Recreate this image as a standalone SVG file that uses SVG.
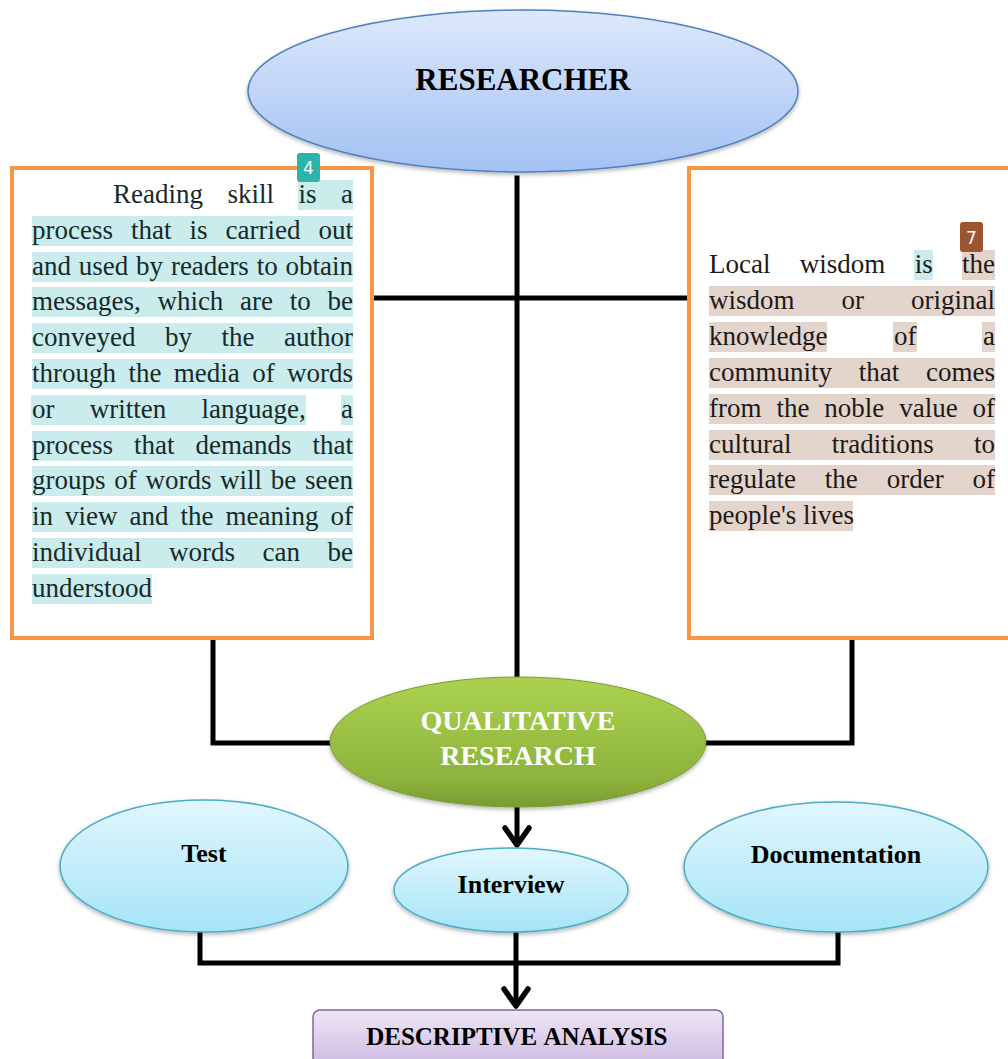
<svg xmlns="http://www.w3.org/2000/svg" width="1008" height="1059" viewBox="0 0 1008 1059">
<defs>
<linearGradient id="gBlue" x1="0" y1="0" x2="0" y2="1"><stop offset="0" stop-color="#DDE8FB"/><stop offset="1" stop-color="#A3C1F4"/></linearGradient>
<linearGradient id="gGreen" x1="0" y1="0" x2="0" y2="1"><stop offset="0" stop-color="#ABD24F"/><stop offset="0.8" stop-color="#8CB23B"/><stop offset="1" stop-color="#789B31"/></linearGradient>
<linearGradient id="gCyan" x1="0" y1="0" x2="0" y2="1"><stop offset="0" stop-color="#E1F7FD"/><stop offset="1" stop-color="#A5E4F8"/></linearGradient>
<linearGradient id="gPurple" x1="0" y1="0" x2="0" y2="1"><stop offset="0" stop-color="#EEE7F6"/><stop offset="1" stop-color="#CBB6E2"/></linearGradient>
<filter id="sh" x="-10%" y="-10%" width="120%" height="130%"><feDropShadow dx="0" dy="2" stdDeviation="2" flood-color="#000" flood-opacity="0.3"/></filter>
<marker id="chev" viewBox="0 0 30 30" refX="27" refY="15" markerWidth="30" markerHeight="30" markerUnits="userSpaceOnUse" orient="auto">
<path d="M9,3 L26,15 L9,27" fill="none" stroke="#000" stroke-width="5.5" stroke-linecap="round" stroke-linejoin="round"/>
</marker>
</defs>
<style>
.ln{fill:none;stroke:#000;stroke-width:5;stroke-linecap:square}
.ar{fill:none;stroke:#000;stroke-width:5;stroke-linecap:butt}
.box{fill:#fff;stroke:#F79646;stroke-width:4}
.tl{font-family:"Liberation Serif","Times New Roman",serif;font-size:27px;fill:#152a2a}
.tr{font-family:"Liberation Serif","Times New Roman",serif;font-size:27px;fill:#1e1916}
.hc{fill:#CBECEC}
.hb{fill:#E3D5CC}
.lbl{font-family:"Liberation Serif","Times New Roman",serif;font-weight:bold;fill:#000;text-anchor:middle}
.wh{fill:#fff}
.badge{font-family:"DejaVu Sans","Liberation Sans",sans-serif;font-size:17px;fill:#fff;text-anchor:middle}
.cy{fill:url(#gCyan);stroke:#4BACC6;stroke-width:1.5}
</style>

<g id="connectors">
<polyline class="ln" points="517,178 517,677"/>
<polyline class="ln" points="374,298 687,298"/>
<polyline class="ln" points="213,640 213,743 332,743"/>
<polyline class="ln" points="852,640 852,743 704,743"/>
<line class="ar" x1="517" y1="807" x2="517" y2="846" marker-end="url(#chev)"/>
<polyline class="ln" points="200,934 200,963 838,963 838,934"/>
<polyline class="ln" points="516,934 516,963"/>
<line class="ar" x1="516" y1="963" x2="516" y2="1007" marker-end="url(#chev)"/>
</g>

<g id="researcher">
<ellipse cx="523" cy="91" rx="275" ry="81" fill="url(#gBlue)" stroke="#4F81BD" stroke-width="1.5" filter="url(#sh)"/>
<text class="lbl" x="523" y="90" font-size="31">RESEARCHER</text>
</g>

<g id="reading-skill">
<rect class="box" x="12" y="168" width="360" height="470"/>
<rect class="hc" x="298" y="180" width="55" height="30"/>
<rect class="hc" x="32" y="216" width="321" height="30"/>
<rect class="hc" x="32" y="252" width="321" height="30"/>
<rect class="hc" x="32" y="287" width="321" height="30"/>
<rect class="hc" x="32" y="323" width="321" height="30"/>
<rect class="hc" x="32" y="359" width="321" height="30"/>
<rect class="hc" x="31" y="395" width="275" height="30"/>
<rect class="hc" x="341" y="395" width="12" height="30"/>
<rect class="hc" x="32" y="431" width="321" height="30"/>
<rect class="hc" x="32" y="466" width="321" height="30"/>
<rect class="hc" x="32" y="502" width="321" height="30"/>
<rect class="hc" x="32" y="538" width="321" height="30"/>
<rect class="hc" x="32" y="574" width="120" height="30"/>
<text class="tl">
<tspan x="113" y="203">Reading</tspan><tspan x="227.5" y="203">skill</tspan><tspan x="298.5" y="203">is</tspan><tspan x="341" y="203">a</tspan>
<tspan x="32" y="239">process</tspan><tspan x="131" y="239">that</tspan><tspan x="189.5" y="239">is</tspan><tspan x="225.5" y="239">carried</tspan><tspan x="318.5" y="239">out</tspan>
<tspan x="32" y="275">and</tspan><tspan x="78.8" y="275">used</tspan><tspan x="136.1" y="275">by</tspan><tspan x="170.9" y="275">readers</tspan><tspan x="256.7" y="275">to</tspan><tspan x="285.5" y="275">obtain</tspan>
<tspan x="32" y="310">messages,</tspan><tspan x="157.4" y="310">which</tspan><tspan x="240.1" y="310">are</tspan><tspan x="289.8" y="310">to</tspan><tspan x="327.5" y="310">be</tspan>
<tspan x="32" y="346">conveyed</tspan><tspan x="165" y="346">by</tspan><tspan x="221.5" y="346">the</tspan><tspan x="284" y="346">author</tspan>
<tspan x="32" y="382">through</tspan><tspan x="128.4" y="382">the</tspan><tspan x="173.8" y="382">media</tspan><tspan x="252.2" y="382">of</tspan><tspan x="287.1" y="382">words</tspan>
<tspan x="32" y="418">or</tspan><tspan x="89.8" y="418">written</tspan><tspan x="201.5" y="418">language,</tspan><tspan x="341" y="418">a</tspan>
<tspan x="32" y="454">process</tspan><tspan x="134" y="454">that</tspan><tspan x="195.5" y="454">demands</tspan><tspan x="312.5" y="454">that</tspan>
<tspan x="32" y="489">groups</tspan><tspan x="114.2" y="489">of</tspan><tspan x="145.4" y="489">words</tspan><tspan x="220.1" y="489">will</tspan><tspan x="270.8" y="489">be</tspan><tspan x="305" y="489">seen</tspan>
<tspan x="32" y="525">in</tspan><tspan x="65" y="525">view</tspan><tspan x="129.5" y="525">and</tspan><tspan x="180.5" y="525">the</tspan><tspan x="225.5" y="525">meaning</tspan><tspan x="330.5" y="525">of</tspan>
<tspan x="32" y="561">individual</tspan><tspan x="169" y="561">words</tspan><tspan x="262.5" y="561">can</tspan><tspan x="327.5" y="561">be</tspan>
<tspan x="32" y="597">understood</tspan>
</text>
<rect x="297" y="153" width="23" height="29" rx="3" fill="#2BB3AE"/>
<text class="badge" x="308.5" y="174">4</text>
</g>

<g id="local-wisdom">
<rect class="box" x="689" y="168" width="330" height="470"/>
<rect class="hc" x="914" y="250" width="19" height="30"/>
<rect class="hb" x="962" y="250" width="33" height="30"/>
<rect class="hb" x="709" y="286" width="286" height="30"/>
<rect class="hb" x="709" y="322" width="118" height="30"/>
<rect class="hb" x="893" y="322" width="24" height="30"/>
<rect class="hb" x="982" y="322" width="13" height="30"/>
<rect class="hb" x="709" y="358" width="286" height="30"/>
<rect class="hb" x="709" y="394" width="286" height="30"/>
<rect class="hb" x="709" y="430" width="286" height="30"/>
<rect class="hb" x="709" y="465" width="286" height="30"/>
<rect class="hb" x="709" y="501" width="144" height="30"/>
<text class="tr">
<tspan x="709" y="273">Local</tspan><tspan x="799.8" y="273">wisdom</tspan><tspan x="914.7" y="273">is</tspan><tspan x="962" y="273">the</tspan>
<tspan x="709" y="309">wisdom</tspan><tspan x="841.5" y="309">or</tspan><tspan x="911" y="309">original</tspan>
<tspan x="709" y="345">knowledge</tspan><tspan x="894" y="345">of</tspan><tspan x="983" y="345">a</tspan>
<tspan x="709" y="381">community</tspan><tspan x="858.8" y="381">that</tspan><tspan x="926" y="381">comes</tspan>
<tspan x="709" y="417">from</tspan><tspan x="776.4" y="417">the</tspan><tspan x="824.3" y="417">noble</tspan><tspan x="899.2" y="417">value</tspan><tspan x="972.6" y="417">of</tspan>
<tspan x="709" y="453">cultural</tspan><tspan x="831.7" y="453">traditions</tspan><tspan x="974" y="453">to</tspan>
<tspan x="709" y="488">regulate</tspan><tspan x="824.8" y="488">the</tspan><tspan x="886.7" y="488">order</tspan><tspan x="972.5" y="488">of</tspan>
<tspan x="709" y="524">people's</tspan><tspan x="803.1" y="524">lives</tspan>
</text>
<rect x="960" y="222" width="23" height="30" rx="3" fill="#9B5533"/>
<text class="badge" x="971.5" y="244">7</text>
</g>

<g id="qualitative-research">
<ellipse cx="518" cy="742" rx="188" ry="65" fill="url(#gGreen)" stroke="#7A9C33" stroke-width="1" filter="url(#sh)"/>
<text class="lbl wh" x="518" y="730" font-size="28">QUALITATIVE</text>
<text class="lbl wh" x="518" y="765" font-size="28">RESEARCH</text>
</g>

<g id="test">
<ellipse class="cy" cx="204" cy="866" rx="144" ry="66" filter="url(#sh)"/>
<text class="lbl" x="204" y="862" font-size="26">Test</text>
</g>

<g id="interview">
<ellipse class="cy" cx="511" cy="890" rx="117" ry="42" filter="url(#sh)"/>
<text class="lbl" x="511" y="893" font-size="26">Interview</text>
</g>

<g id="documentation">
<ellipse class="cy" cx="836" cy="867" rx="152" ry="65" filter="url(#sh)"/>
<text class="lbl" x="836" y="863" font-size="26">Documentation</text>
</g>

<g id="descriptive-analysis">
<rect x="313" y="1010" width="410" height="60" rx="7" fill="url(#gPurple)" stroke="#8064A2" stroke-width="1.5"/>
<text class="lbl" font-size="25" style="text-anchor:start"><tspan x="366.2" y="1045">DESCRIPTIVE</tspan><tspan x="543.4" y="1045">ANALYSIS</tspan></text>
</g>
</svg>
